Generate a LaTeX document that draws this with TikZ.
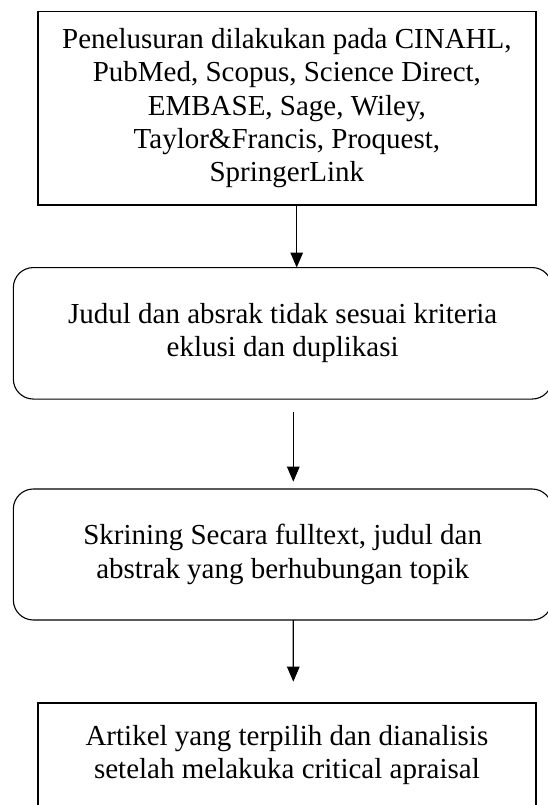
\documentclass[tikz,border=0pt]{standalone}
\usepackage{fontspec}
\setmainfont{Liberation Serif}
\usetikzlibrary{arrows.meta}
\begin{document}
\begin{tikzpicture}[x=1pt,y=-1pt,
  box/.style={draw=black, line width=1.6pt, inner sep=0pt, outer sep=0pt, align=center,
    font=\fontsize{29}{33.4}\selectfont},
  rbox/.style={box, line width=1.1pt, rounded corners=20pt},
  arr/.style={line width=1.3pt, -{Triangle[length=15pt,width=12.5pt]}}]
\clip (0,0) rectangle (548,805);
\node[box, minimum width=498.3pt, minimum height=193.7pt] (b1) at (286.9,108.2)
  {Penelusuran dilakukan pada CINAHL,\\ PubMed, Scopus, Science Direct,\\ EMBASE, Sage, Wiley,\\ Taylor\&Francis, Proquest,\\ SpringerLink};
\node[rbox, minimum width=538.7pt, minimum height=131.5pt] (b2) at (282.7,333.3)
  {Judul dan absrak tidak sesuai kriteria\\ eklusi dan duplikasi};
\node[rbox, minimum width=538.7pt, minimum height=131pt] (b3) at (282.7,554.5)
  {Skrining Secara fulltext, judul dan\\ abstrak yang berhubungan topik};
\node[box, minimum width=498.3pt, minimum height=103.6pt] (b4) at (286.9,754.8)
  {Artikel yang terpilih dan dianalisis\\ setelah melakuka critical apraisal};
\draw[arr] ([xshift=9.8pt]b1.south) -- ([xshift=14pt]b2.north);
\draw[arr, shorten <=12.7pt, shorten >=7.3pt] ([xshift=10.6pt]b2.south) -- ([xshift=10.6pt]b3.north);
\draw[arr, shorten >=21.3pt] ([xshift=10.6pt]b3.south) -- ([xshift=6.4pt]b4.north);
\end{tikzpicture}
\end{document}
